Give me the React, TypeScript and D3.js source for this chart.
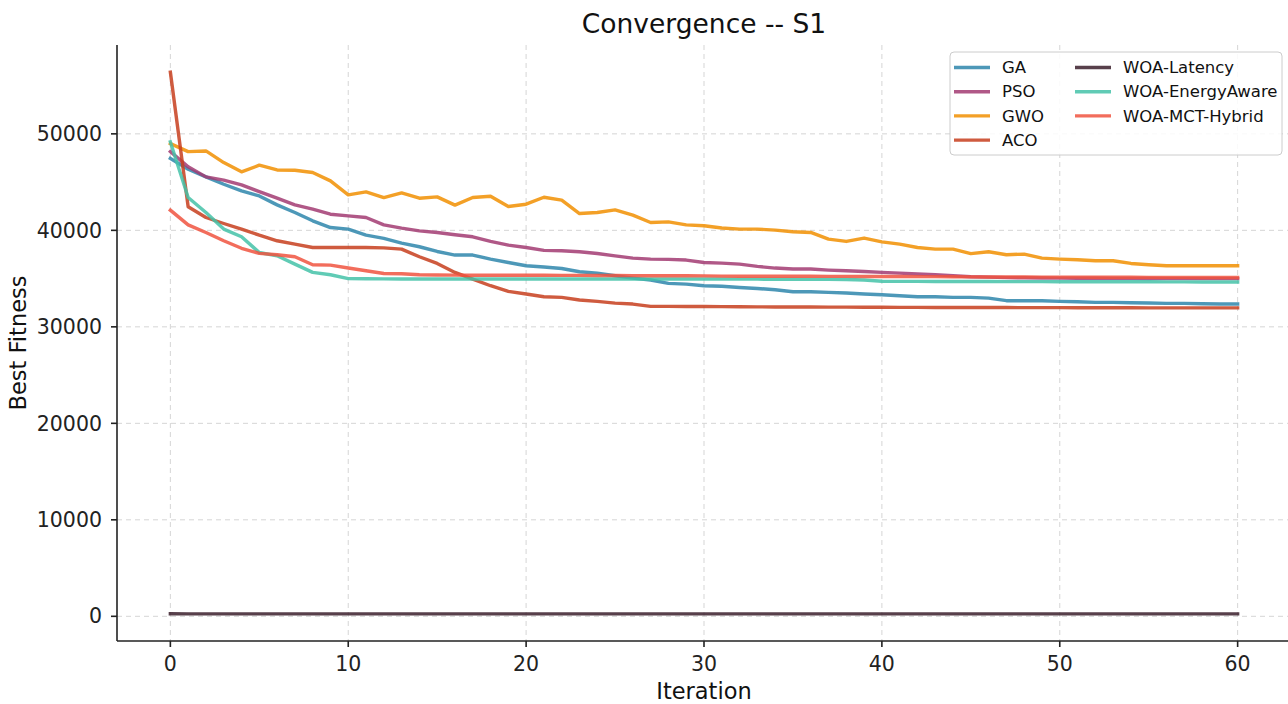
import React from "react";
import * as d3 from "d3";

// iterations 0..60
const iterations = d3.range(0, 61);

const gaValues = [
  47450, 46330, 45540, 44780, 44090, 43570, 42640, 41850, 40990, 40290,
  40130, 39500, 39160, 38680, 38300, 37810, 37440, 37440, 37020, 36670,
  36330, 36200, 36050, 35710, 35570, 35290, 35050, 34850, 34500, 34430,
  34260, 34200, 34080, 33980, 33840, 33640, 33640, 33570, 33500, 33400,
  33330, 33220, 33120, 33120, 33050, 33050, 32980, 32710, 32710, 32710,
  32640, 32600, 32530, 32530, 32500, 32470, 32430, 32430, 32400, 32360,
  32360,
];
const psoValues = [
  48160, 46580, 45540, 45200, 44710, 44020, 43330, 42640, 42190, 41670,
  41500, 41330, 40570, 40230, 39950, 39780, 39540, 39330, 38850, 38470,
  38220, 37920, 37880, 37780, 37600, 37360, 37120, 37020, 36990, 36920,
  36670, 36600, 36500, 36260, 36090, 35990, 35990, 35880, 35810, 35740,
  35640, 35570, 35470, 35400, 35290, 35190, 35150, 35100, 35080, 35060,
  35050, 35040, 35030, 35020, 35020, 35010, 35000, 35000, 35000, 35000,
  35000,
];
const gwoValues = [
  48990, 48160, 48230, 47020, 46060, 46750, 46260, 46230, 45990, 45130,
  43680, 43990, 43400, 43880, 43330, 43470, 42610, 43400, 43540, 42470,
  42710, 43430, 43130, 41740, 41850, 42120, 41570, 40810, 40880, 40570,
  40470, 40240, 40130, 40130, 40020, 39850, 39780, 39090, 38850, 39200,
  38810, 38570, 38220, 38050, 38050, 37590, 37780, 37470, 37540, 37120,
  37020, 36950, 36850, 36850, 36570, 36430, 36330, 36330, 36330, 36330,
  36330,
];
const acoValues = [
  56400, 42440, 41330, 40710, 40130, 39500, 38920, 38570, 38220, 38220,
  38220, 38220, 38180, 38050, 37260, 36570, 35640, 34950, 34260, 33670,
  33400, 33120, 33050, 32780, 32640, 32460, 32360, 32120, 32120, 32100,
  32100, 32090, 32080, 32070, 32060, 32050, 32050, 32040, 32040, 32030,
  32030, 32020, 32020, 32010, 32010, 32000, 32000, 32000, 31990, 31990,
  31990, 31980, 31980, 31980, 31980, 31970, 31970, 31970, 31970, 31960,
  31960,
];
const latencyValues = [
  260, 255, 250, 250, 250, 250, 250, 250, 250, 250,
  250, 250, 250, 250, 250, 250, 250, 250, 250, 250,
  250, 250, 250, 250, 250, 250, 250, 250, 250, 250,
  250, 250, 250, 250, 250, 250, 250, 250, 250, 250,
  250, 250, 250, 250, 250, 250, 250, 250, 250, 250,
  250, 250, 250, 250, 250, 250, 250, 250, 250, 250,
  250,
];
const energyValues = [
  49160, 43400, 41850, 40130, 39330, 37700, 37360, 36500, 35640, 35400,
  35000, 34980, 34970, 34960, 34950, 34950, 34950, 34950, 34950, 34950,
  34950, 34950, 34950, 34950, 34950, 34950, 34950, 34950, 34950, 34950,
  34950, 34950, 34940, 34940, 34930, 34930, 34920, 34920, 34900, 34850,
  34720, 34710, 34710, 34700, 34700, 34700, 34700, 34690, 34690, 34690,
  34680, 34680, 34680, 34670, 34670, 34670, 34660, 34660, 34650, 34650,
  34650,
];
const hybridValues = [
  42090, 40570, 39780, 38920, 38140, 37610, 37470, 37260, 36430, 36400,
  36100, 35810, 35530, 35500, 35400, 35370, 35360, 35350, 35350, 35350,
  35340, 35340, 35330, 35330, 35320, 35320, 35310, 35300, 35300, 35290,
  35280, 35260, 35250, 35250, 35250, 35240, 35240, 35230, 35230, 35220,
  35220, 35210, 35200, 35200, 35190, 35180, 35170, 35160, 35160, 35150,
  35150, 35150, 35140, 35140, 35140, 35130, 35130, 35130, 35120, 35120,
  35120,
];

const seriesNames = [
  "GA",
  "PSO",
  "GWO",
  "ACO",
  "WOA-Latency",
  "WOA-EnergyAware",
  "WOA-MCT-Hybrid",
];
const seriesValues = [
  gaValues,
  psoValues,
  gwoValues,
  acoValues,
  latencyValues,
  energyValues,
  hybridValues,
];
const seriesColors = [
  "#2E86AB",
  "#A23B72",
  "#F18F01",
  "#C73E1D",
  "#3B1F2B",
  "#44C2A8",
  "#F0533F",
];

const xTicks = [0, 10, 20, 30, 40, 50, 60];
const yTicks = [0, 10000, 20000, 30000, 40000, 50000];

const WIDTH = 1288;
const HEIGHT = 704;
const FONT = "'DejaVu Sans', sans-serif";

export default function App() {
  const left = 117;
  const right = 1291;
  const top = 45;
  const bottom = 641;

  // matplotlib-style 5% margins
  const xPad = (d3.max(iterations)! - d3.min(iterations)!) * 0.05;
  const x = d3
    .scaleLinear()
    .domain([d3.min(iterations)! - xPad, d3.max(iterations)! + xPad])
    .range([left, right]);

  const allValues = seriesValues.flat();
  const yMin = d3.min(allValues)!;
  const yMax = d3.max(allValues)!;
  const yPad = (yMax - yMin) * 0.05;
  const y = d3
    .scaleLinear()
    .domain([yMin - yPad, yMax + yPad])
    .range([bottom, top]);

  const line = d3
    .line<number>()
    .x((_, i) => x(iterations[i]))
    .y(d => y(d));

  // legend layout
  const legX = 950;
  const legY = 52;
  const rowH = 24.2;
  const colX = [954, 1075];

  return (
    <svg
      width={WIDTH}
      height={HEIGHT}
      style={{ position: "absolute", left: 0, top: 0, background: "#fff" }}
      fontFamily={FONT}
    >
      <defs>
        <clipPath id="plotClip">
          <rect x={left} y={top} width={right - left} height={bottom - top} />
        </clipPath>
      </defs>

      {/* grid */}
      <g stroke="#cccccc" strokeWidth={1} strokeDasharray="5,4" opacity={0.8}>
        {xTicks.map(t => (
          <line key={"gx" + t} x1={x(t)} x2={x(t)} y1={top} y2={bottom} />
        ))}
        {yTicks.map(t => (
          <line key={"gy" + t} x1={left} x2={right} y1={y(t)} y2={y(t)} />
        ))}
      </g>

      {/* series */}
      <g clipPath="url(#plotClip)">
        {seriesValues.map((vals, i) => (
          <path
            key={seriesNames[i]}
            d={line(vals) || ""}
            fill="none"
            stroke={seriesColors[i]}
            strokeWidth={3.4}
            strokeOpacity={0.85}
            strokeLinejoin="round"
            strokeLinecap="square"
          />
        ))}
      </g>

      {/* spines */}
      <line x1={left} x2={left} y1={top} y2={bottom} stroke="#222" strokeWidth={1.6} />
      <line x1={left} x2={WIDTH} y1={bottom} y2={bottom} stroke="#222" strokeWidth={1.6} />

      {/* x ticks */}
      {xTicks.map(t => (
        <g key={"xt" + t}>
          <line x1={x(t)} x2={x(t)} y1={bottom} y2={bottom + 6} stroke="#222" strokeWidth={1.6} />
          <text
            x={x(t)}
            y={bottom + 30}
            textAnchor="middle"
            fontSize={20.5}
            fill="#222"
          >
            {t}
          </text>
        </g>
      ))}

      {/* y ticks */}
      {yTicks.map(t => (
        <g key={"yt" + t}>
          <line x1={left - 6} x2={left} y1={y(t)} y2={y(t)} stroke="#222" strokeWidth={1.6} />
          <text
            x={left - 15}
            y={y(t)}
            dy="0.35em"
            textAnchor="end"
            fontSize={20.5}
            fill="#222"
          >
            {t}
          </text>
        </g>
      ))}

      {/* axis labels */}
      <text x={(left + 1291) / 2} y={699} textAnchor="middle" fontSize={22.5} fill="#111">
        Iteration
      </text>
      <text
        transform={`translate(26, ${(top + bottom) / 2}) rotate(-90)`}
        textAnchor="middle"
        fontSize={22.5}
        fill="#111"
      >
        Best Fitness
      </text>

      {/* title */}
      <text x={(left + 1291) / 2} y={33} textAnchor="middle" fontSize={26.5} fill="#111">
        Convergence -- S1
      </text>

      {/* legend */}
      <rect
        x={legX}
        y={legY}
        width={332}
        height={103}
        rx={4}
        fill="#fff"
        fillOpacity={0.85}
        stroke="#cccccc"
        strokeWidth={1}
      />
      {seriesNames.map((name, i) => {
        const col = i < 4 ? 0 : 1;
        const row = i < 4 ? i : i - 4;
        const ly = 67.5 + row * rowH;
        const lx = colX[col];
        return (
          <g key={"leg" + name}>
            <line
              x1={lx}
              x2={lx + 36}
              y1={ly}
              y2={ly}
              stroke={seriesColors[i]}
              strokeWidth={3.4}
              strokeOpacity={0.85}
            />
            <text x={lx + 48} y={ly} dy="0.35em" fontSize={16.5} fill="#111">
              {name}
            </text>
          </g>
        );
      })}
    </svg>
  );
}
